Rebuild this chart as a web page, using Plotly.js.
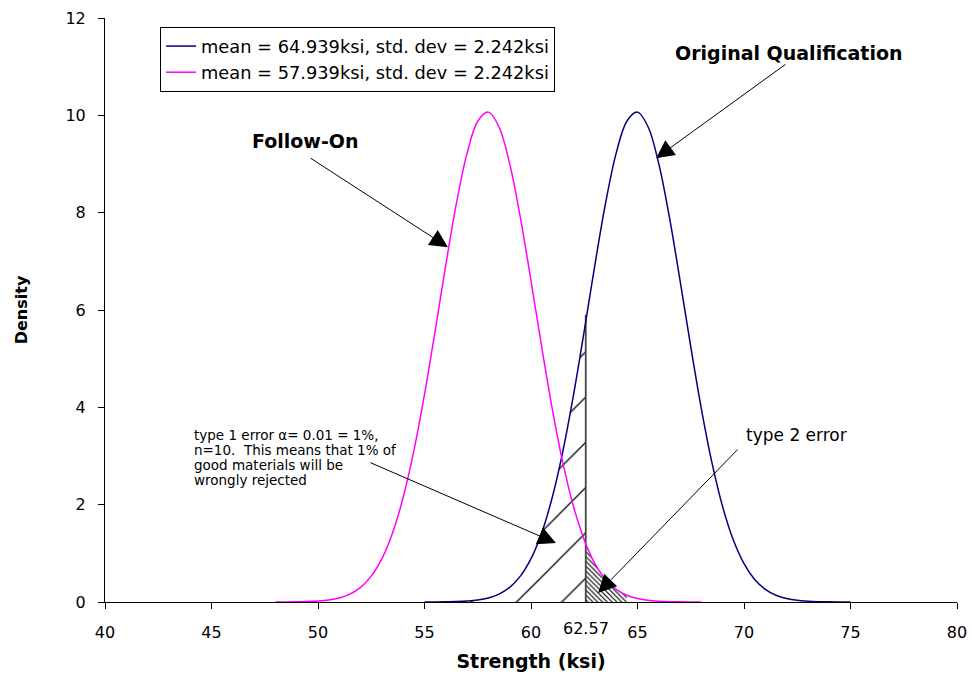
<!DOCTYPE html>
<html><head><meta charset="utf-8">
<script src="https://cdn.plot.ly/plotly-3.0.1.min.js"></script>
<style>html,body{margin:0;padding:0;background:#fff}#chart{width:972px;height:679px}</style>
</head><body><div id="chart"></div>
<script>
// Original Qualification curve (navy)
const navyX = [55,55.5,56,56.5,57,57.5,58,58.5,59,59.5,60,60.5,61,61.5,62,62.5,62.57,63,63.5,64,64.5,65,65.5,66,66.5,67,67.5,68,68.5,69,69.5,70,70.5,71,71.5,72,72.5,73,73.5,74,74.5,75];
const navyY = [0.001,0.001,0.004,0.008,0.019,0.041,0.084,0.163,0.301,0.531,0.890,1.419,2.152,3.106,4.265,5.573,5.762,6.928,8.196,9.224,9.879,10.066,9.760,9.004,7.902,6.600,5.245,3.965,2.853,1.953,1.272,0.788,0.464,0.261,0.139,0.071,0.034,0.016,0.007,0.003,0.001,0.000];
// Follow-On curve (magenta)
const magentaX = [48,48.5,49,49.5,50,50.5,51,51.5,52,52.5,53,53.5,54,54.5,55,55.5,56,56.5,57,57.5,58,58.5,59,59.5,60,60.5,61,61.5,62,62.5,62.57,63,63.5,64,64.5,65,65.5,66,66.5,67,67.5,68];
const magentaY = [0.001,0.001,0.004,0.008,0.019,0.041,0.084,0.163,0.301,0.531,0.890,1.419,2.152,3.106,4.265,5.573,6.928,8.196,9.224,9.879,10.066,9.760,9.004,7.902,6.600,5.245,3.965,2.853,1.953,1.272,1.192,0.788,0.464,0.261,0.139,0.071,0.034,0.016,0.007,0.003,0.001,0.000];
const seriesNames = ['mean = 64.939ksi, std. dev = 2.242ksi','mean = 57.939ksi, std. dev = 2.242ksi'];
const cutoff = 62.57;
const cutoffTop = 5.9;
const type2End = 64.5;
const xTicks = [40,45,50,55,60,65,70,75,80];
const yTicks = [0,2,4,6,8,10,12];
const type1Lines = ['type 1 error \u03b1= 0.01 = 1%,','n=10.&nbsp; This means that 1% of','good materials will be','wrongly rejected'];

const FONT = 'DejaVu Sans, Verdana, sans-serif';

const t1X = [], t1Y = [];
navyX.forEach((x,i)=>{ if (x <= cutoff) { t1X.push(x); t1Y.push(navyY[i]); } });
const t2X = [], t2Y = [];
magentaX.forEach((x,i)=>{ if (x >= cutoff && x <= type2End) { t2X.push(x); t2Y.push(magentaY[i]); } });

const traces = [
  {x:t1X, y:t1Y, type:'scatter', mode:'lines', line:{width:0, shape:'spline'}, fill:'tozeroy', fillcolor:'rgba(0,0,0,0)',
   fillpattern:{shape:'/', size:32, solidity:0.04, fgcolor:'#000', fgopacity:1, bgcolor:'rgba(0,0,0,0)'}, showlegend:false, hoverinfo:'skip'},
  {x:t2X, y:t2Y, type:'scatter', mode:'lines', line:{width:0, shape:'spline'}, fill:'tozeroy', fillcolor:'rgba(0,0,0,0)',
   fillpattern:{shape:'\\', size:3.4, solidity:0.32, fgcolor:'#000', fgopacity:1, bgcolor:'rgba(0,0,0,0)'}, showlegend:false, hoverinfo:'skip'},
  {x:[cutoff,cutoff], y:[0,cutoffTop], type:'scatter', mode:'lines', line:{color:'#444', width:1.8}, showlegend:false, hoverinfo:'skip'},
  {x:navyX, y:navyY, type:'scatter', mode:'lines', name:seriesNames[0], legendgroup:'a', line:{color:'#000080', width:1.5, shape:'spline'}},
  {x:magentaX, y:magentaY, type:'scatter', mode:'lines', name:seriesNames[1], legendgroup:'b', line:{color:'#FF00FF', width:1.5, shape:'spline'}}
];

function arrow(hx, hy, tx, ty) {
  return {xref:'x', yref:'y', axref:'x', ayref:'y', x:hx, y:hy, ax:tx, ay:ty, text:'', showarrow:true,
          arrowhead:2, arrowsize:3.6, arrowwidth:1, arrowcolor:'#000'};
}

const annotations = [
  {xref:'x', yref:'y', x:72.12, y:11.28, text:'<b>Original Qualification</b>', showarrow:false, font:{family:FONT, size:19, color:'#000'}},
  arrow(65.87, 9.12, 72.02, 11.07),
  {xref:'x', yref:'y', x:49.39, y:9.47, text:'<b>Follow-On</b>', showarrow:false, font:{family:FONT, size:19, color:'#000'}},
  arrow(56.10, 7.29, 49.58, 9.14),
  arrow(61.17, 1.212, 52.39, 2.876),
  {xref:'x', yref:'y', x:70.0, y:3.43, xanchor:'left', text:'type 2 error', showarrow:false, font:{family:FONT, size:17, color:'#000'}},
  arrow(63.15, 0.185, 69.77, 3.164),
  {xref:'x', yref:'paper', x:cutoff, y:-0.046, yanchor:'middle', text:String(cutoff), showarrow:false, font:{family:FONT, size:16, color:'#000'}}
];
const t1Top = 3.44, t1Step = 0.31;
type1Lines.forEach((s,i)=>{
  annotations.push({xref:'x', yref:'y', x:44.08, y:t1Top - i*t1Step, xanchor:'left', yanchor:'middle', text:s, showarrow:false,
    font:{family:FONT, size:13.5, color:'#000'}});
});

const layout = {
  width:972, height:679,
  margin:{l:105, r:15, t:18, b:77},
  paper_bgcolor:'#fff', plot_bgcolor:'#fff',
  showlegend:true,
  legend:{x:0.0646, y:0.9846, xanchor:'left', yanchor:'top', bordercolor:'#000', borderwidth:1, bgcolor:'#fff',
          font:{family:FONT, size:17.8, color:'#000'}, traceorder:'grouped', tracegroupgap:0},
  xaxis:{range:[40,80], tickvals:xTicks, ticktext:xTicks.map(String), ticks:'outside', ticklen:6, tickcolor:'#000', tickwidth:1,
         showline:true, linecolor:'#000', linewidth:1, showgrid:false, zeroline:false, ticklabelstandoff:10,
         tickfont:{family:FONT, size:16, color:'#000'},
         title:{text:'<b>Strength (ksi)</b>', font:{family:FONT, size:19, color:'#000'}, standoff:13}},
  yaxis:{range:[0,12], tickvals:yTicks, ticktext:yTicks.map(String), ticks:'outside', ticklen:6, tickcolor:'#000', tickwidth:1,
         showline:true, linecolor:'#000', linewidth:1, showgrid:false, zeroline:false, ticklabelstandoff:9,
         tickfont:{family:FONT, size:16, color:'#000'},
         title:{text:'<b>Density</b>', font:{family:FONT, size:16, color:'#000'}, standoff:33}},
  annotations:annotations
};

Plotly.newPlot('chart', traces, layout, {displayModeBar:false, responsive:false});
</script>
</body></html>
